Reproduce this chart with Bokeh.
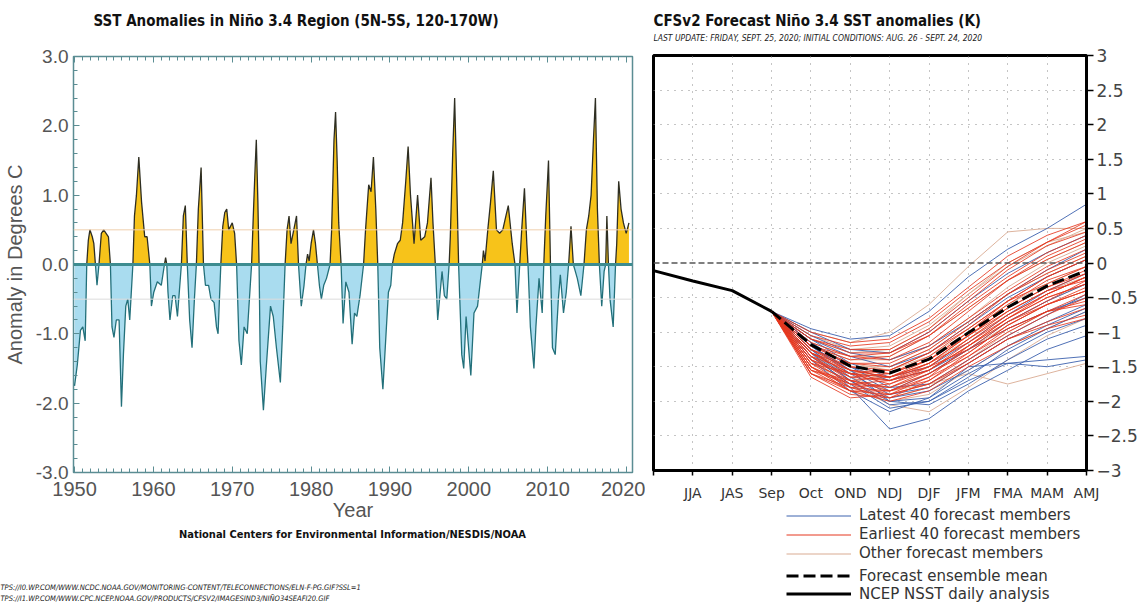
import math
from bokeh.plotting import figure
from bokeh.layouts import row, column
from bokeh.models import FixedTicker, LinearAxis, Label, Legend, LegendItem, Span, Range1d, Title
from bokeh.embed import file_html
from bokeh.resources import INLINE

# ---------------- Left chart data ----------------
sst_year = [
    1950.00, 1950.35, 1950.75, 1951.05, 1951.35, 1951.55, 1951.75, 1951.95, 1952.25, 1952.45,
    1952.65, 1952.85, 1953.10, 1953.40, 1953.70, 1954.00, 1954.30, 1954.55, 1954.75, 1955.00,
    1955.30, 1955.65, 1955.95, 1956.20, 1956.50, 1956.75, 1957.00, 1957.40, 1957.60, 1957.85,
    1958.15, 1958.50, 1958.90, 1959.20, 1959.55, 1959.75, 1960.05, 1960.50, 1961.00, 1961.40,
    1961.55, 1961.70, 1961.85, 1962.10, 1962.45, 1962.75, 1963.05, 1963.55, 1963.80, 1964.05,
    1964.30, 1964.60, 1964.90, 1965.20, 1965.45, 1965.70, 1966.05, 1966.35, 1966.60, 1967.00,
    1967.30, 1967.70, 1968.00, 1968.20, 1968.55, 1968.80, 1969.05, 1969.30, 1969.55, 1970.00,
    1970.30, 1970.55, 1970.85, 1971.15, 1971.50, 1971.90, 1972.45, 1972.70, 1972.90, 1973.05,
    1973.25, 1973.40, 1973.55, 1973.95, 1974.30, 1974.85, 1975.20, 1975.60, 1976.10, 1976.40,
    1976.70, 1976.95, 1977.20, 1977.45, 1977.80, 1978.15, 1978.40, 1978.75, 1979.10, 1979.35,
    1979.55, 1979.75, 1980.00, 1980.30, 1980.55, 1980.80, 1981.05, 1981.30, 1981.60, 1981.95,
    1982.40, 1982.60, 1982.90, 1983.10, 1983.30, 1983.50, 1983.80, 1984.05, 1984.40, 1984.80,
    1985.20, 1985.50, 1985.80, 1986.20, 1986.65, 1986.90, 1987.30, 1987.60, 1987.90, 1988.20,
    1988.45, 1988.70, 1989.10, 1989.50, 1989.80, 1990.10, 1990.30, 1990.55, 1990.95, 1991.30,
    1991.60, 1992.00, 1992.30, 1992.60, 1993.05, 1993.50, 1993.90, 1994.40, 1994.75, 1995.20,
    1995.45, 1995.75, 1996.05, 1996.60, 1996.90, 1997.20, 1997.50, 1997.65, 1997.95, 1998.20,
    1998.50, 1998.70, 1998.85, 1999.10, 1999.35, 1999.65, 2000.25, 2000.65, 2001.10, 2001.60,
    2001.70, 2001.85, 2002.05, 2002.40, 2002.75, 2003.10, 2003.50, 2003.90, 2004.30, 2004.70,
    2005.00, 2005.50, 2005.85, 2006.10, 2006.45, 2006.70, 2007.05, 2007.35, 2007.50, 2007.80,
    2008.25, 2008.50, 2008.90, 2009.30, 2009.50, 2009.75, 2010.10, 2010.35, 2010.60, 2010.95,
    2011.35, 2011.60, 2012.00, 2012.35, 2012.65, 2012.95, 2013.25, 2013.50, 2013.75, 2014.20,
    2014.60, 2014.90, 2015.20, 2015.50, 2015.80, 2016.05, 2016.30, 2016.55, 2016.85, 2017.15,
    2017.35, 2017.50, 2017.70, 2017.90, 2018.30, 2018.60, 2018.75, 2019.00, 2019.30, 2019.60,
    2019.95, 2020.30,
]
sst_anom = [
    -1.75, -1.45, -0.95, -0.90, -1.10, 0.00, 0.35, 0.50, 0.40, 0.30,
    0.00, -0.30, 0.00, 0.45, 0.50, 0.45, 0.40, 0.00, -0.90, -1.05,
    -0.80, -0.80, -2.05, -1.30, -0.60, -0.50, -0.80, 0.00, 0.70, 1.00,
    1.55, 0.90, 0.40, 0.40, 0.00, -0.60, -0.40, -0.25, -0.30, 0.00,
    0.10, 0.00, -0.40, -0.80, -0.45, -0.45, -0.75, 0.00, 0.70, 0.85,
    0.00, -0.80, -1.20, -0.50, 0.00, 0.80, 1.40, 0.00, -0.30, -0.30,
    -0.50, -0.55, -0.90, -1.00, 0.00, 0.55, 0.75, 0.80, 0.50, 0.60,
    0.45, 0.00, -1.10, -1.45, -0.90, -1.00, 0.00, 0.80, 1.40, 1.80,
    0.90, 0.00, -1.40, -2.10, -1.50, -0.60, -0.75, -1.20, -1.70, -0.90,
    0.00, 0.50, 0.70, 0.30, 0.50, 0.70, 0.00, -0.60, -0.30, 0.00,
    0.15, 0.05, 0.30, 0.50, 0.30, 0.00, -0.30, -0.50, -0.30, -0.20,
    0.00, 0.50, 1.80, 2.20, 1.50, 0.60, 0.00, -0.85, -0.25, -0.40,
    -1.15, -0.70, -0.75, -0.45, 0.00, 0.50, 1.15, 1.05, 1.55, 0.80,
    0.00, -1.20, -1.80, -1.00, -0.40, -0.30, 0.00, 0.15, 0.30, 0.35,
    0.60, 1.20, 1.70, 1.00, 0.30, 1.00, 0.35, 0.40, 0.60, 1.25,
    0.60, 0.00, -0.80, -0.10, -0.45, -0.50, 0.00, 0.40, 1.60, 2.40,
    1.00, 0.00, -0.50, -1.30, -1.50, -0.75, -1.60, -0.70, -0.60, -0.10,
    0.00, 0.20, 0.05, 0.50, 0.90, 1.35, 0.50, 0.45, 0.50, 0.70,
    0.85, 0.30, 0.00, -0.70, 0.00, 0.50, 1.10, 0.30, 0.00, -0.90,
    -1.50, -0.90, -0.20, -0.70, 0.00, 0.70, 1.50, 0.00, -1.20, -1.30,
    -0.50, -0.15, -0.70, -0.40, 0.00, 0.55, 0.00, -0.10, -0.20, -0.45,
    0.00, 0.50, 0.70, 1.00, 1.80, 2.40, 0.80, 0.00, -0.60, -0.10,
    0.00, 0.70, 0.00, -0.50, -0.90, 0.00, 0.30, 1.20, 0.80, 0.60,
    0.45, 0.60,
]
sst_major_years = [1950, 1960, 1970, 1980, 1990, 2000, 2010, 2020]
sst_y_ticks = [-3, -2, -1, 0, 1, 2, 3]
sst_y_labels = ["-3.0", "-2.0", "-1.0", "0.0", "1.0", "2.0", "3.0"]

# ---------------- Right chart data ----------------
cfs_labels = ["JJA", "JAS", "Sep", "Oct", "OND", "NDJ", "DJF", "JFM", "FMA", "MAM", "AMJ"]
analysis_pos = [0, 1, 2, 3]
analysis_vals = [-0.11, -0.26, -0.40, -0.70]
forecast_pos = [3, 4, 5, 6, 7, 8, 9, 10, 11]
forecast_start = -0.70
mean_vals = [-0.70, -1.18, -1.49, -1.59, -1.39, -1.01, -0.64, -0.33, -0.11]

earliest_members = [
    [-1.05, -1.20, -1.15, -0.85, -0.40, 0.00, 0.30, 0.55],
    [-1.10, -1.30, -1.30, -1.00, -0.55, -0.10, 0.25, 0.45],
    [-1.20, -1.45, -1.50, -1.25, -0.85, -0.45, -0.15, 0.10],
    [-1.25, -1.55, -1.65, -1.45, -1.05, -0.65, -0.35, -0.10],
    [-1.30, -1.60, -1.75, -1.55, -1.15, -0.75, -0.45, -0.20],
    [-1.35, -1.70, -1.85, -1.70, -1.30, -0.90, -0.60, -0.35],
    [-1.40, -1.75, -1.90, -1.75, -1.40, -1.05, -0.75, -0.50],
    [-1.45, -1.80, -1.95, -1.80, -1.45, -1.10, -0.85, -0.65],
    [-1.50, -1.85, -2.00, -1.85, -1.50, -1.20, -0.95, -0.80],
    [-1.55, -1.75, -1.80, -1.60, -1.25, -0.85, -0.55, -0.25],
    [-1.60, -1.90, -1.95, -1.70, -1.35, -0.95, -0.70, -0.45],
    [-1.65, -1.95, -1.90, -1.65, -1.20, -0.80, -0.50, -0.30],
    [-1.15, -1.35, -1.40, -1.15, -0.70, -0.25, 0.10, 0.35],
    [-1.20, -1.40, -1.35, -1.05, -0.60, -0.20, 0.15, 0.40],
    [-1.30, -1.50, -1.55, -1.30, -0.95, -0.55, -0.20, 0.05],
    [-1.35, -1.65, -1.70, -1.50, -1.10, -0.70, -0.40, -0.15],
    [-1.40, -1.65, -1.60, -1.35, -0.95, -0.55, -0.30, -0.05],
    [-1.45, -1.70, -1.80, -1.55, -1.20, -0.85, -0.60, -0.40],
    [-1.50, -1.80, -1.85, -1.65, -1.35, -1.00, -0.70, -0.55],
    [-1.25, -1.45, -1.45, -1.20, -0.80, -0.40, -0.05, 0.20],
    [-1.10, -1.25, -1.25, -0.95, -0.50, -0.05, 0.30, 0.60],
    [-1.55, -1.85, -1.90, -1.75, -1.45, -1.10, -0.90, -0.75],
    [-1.35, -1.55, -1.60, -1.40, -1.00, -0.60, -0.25, -0.05],
    [-1.60, -1.80, -1.75, -1.50, -1.10, -0.75, -0.45, -0.20],
    [-1.45, -1.60, -1.65, -1.45, -1.15, -0.80, -0.50, -0.30],
    [-1.00, -1.15, -1.10, -0.80, -0.35, 0.10, 0.40, 0.60],
    [-1.30, -1.55, -1.65, -1.50, -1.25, -0.95, -0.70, -0.60],
    [-1.50, -1.75, -1.70, -1.45, -1.05, -0.65, -0.35, -0.15],
    [-1.25, -1.50, -1.60, -1.40, -1.05, -0.70, -0.40, -0.25],
    [-1.40, -1.60, -1.55, -1.30, -0.90, -0.45, -0.10, 0.15],
    [-1.55, -1.70, -1.65, -1.40, -1.00, -0.55, -0.20, 0.05],
    [-1.20, -1.35, -1.30, -1.05, -0.65, -0.25, 0.05, 0.30],
    [-1.60, -1.85, -1.85, -1.60, -1.30, -0.90, -0.60, -0.40],
    [-1.30, -1.60, -1.70, -1.55, -1.20, -0.80, -0.45, -0.20],
]
latest_members = [
    [-0.95, -1.10, -1.05, -0.70, -0.20, 0.20, 0.50, 0.85],
    [-1.05, -1.30, -1.40, -1.20, -0.85, -0.45, -0.10, 0.20],
    [-1.15, -1.50, -1.80, -1.75, -1.40, -1.05, -0.75, -0.45],
    [-1.20, -1.55, -2.00, -1.95, -1.60, -1.30, -1.00, -0.80],
    [-1.25, -1.70, -2.05, -2.00, -1.70, -1.45, -1.40, -1.35],
    [-1.30, -1.80, -2.40, -2.25, -1.85, -1.55, -1.25, -1.05],
    [-1.10, -1.45, -1.65, -1.50, -1.15, -0.75, -0.40, -0.15],
    [-1.20, -1.60, -1.90, -1.80, -1.45, -1.10, -0.85, -0.60],
    [-1.35, -1.75, -2.10, -2.00, -1.65, -1.25, -0.95, -0.70],
    [-1.00, -1.25, -1.30, -1.00, -0.55, -0.15, 0.15, 0.40],
    [-1.15, -1.50, -1.70, -1.55, -1.25, -0.95, -0.70, -0.50],
    [-1.25, -1.65, -1.95, -1.85, -1.55, -1.20, -0.90, -0.65],
    [-1.30, -1.70, -2.00, -2.05, -1.75, -1.40, -1.10, -0.90],
    [-1.10, -1.35, -1.50, -1.30, -0.90, -0.50, -0.20, 0.05],
    [-1.20, -1.55, -1.85, -1.60, -1.25, -0.85, -0.55, -0.30],
    [-1.40, -1.85, -2.15, -1.95, -1.50, -1.45, -1.50, -1.40],
]
other_members = [
    [-1.00, -1.15, -1.00, -0.60, -0.05, 0.45, 0.50, 0.50],
    [-1.20, -1.45, -1.55, -1.35, -1.00, -0.60, -0.30, -0.05],
    [-1.30, -1.65, -1.85, -1.75, -1.60, -1.75, -1.60, -1.45],
    [-1.15, -1.35, -1.35, -1.05, -0.65, -0.25, 0.05, 0.30],
    [-1.25, -1.55, -1.70, -1.55, -1.20, -0.85, -0.55, -0.30],
    [-1.35, -1.75, -2.05, -2.15, -1.80, -1.40, -1.05, -0.80],
    [-1.10, -1.30, -1.25, -0.95, -0.45, 0.00, 0.30, 0.45],
    [-1.40, -1.80, -1.95, -1.80, -1.40, -1.00, -0.70, -0.50],
    [-1.05, -1.25, -1.20, -0.90, -0.45, -0.05, 0.25, 0.50],
    [-1.30, -1.50, -1.50, -1.25, -0.85, -0.45, -0.15, 0.10],
    [-1.50, -1.85, -2.00, -1.90, -1.55, -1.20, -0.95, -0.70],
    [-1.20, -1.40, -1.40, -1.20, -0.80, -0.35, 0.00, 0.25],
    [-1.45, -1.70, -1.80, -1.60, -1.25, -0.90, -0.60, -0.40],
    [-1.35, -1.60, -1.65, -1.45, -1.10, -0.70, -0.40, -0.20],
]
cfs_y_ticks = [-3, -2.5, -2, -1.5, -1, -0.5, 0, 0.5, 1, 1.5, 2, 2.5, 3]
cfs_y_labels = ["\u22123", "\u22122.5", "\u22122", "\u22121.5", "\u22121", "\u22120.5", "0",
                "0.5", "1", "1.5", "2", "2.5", "3"]
legend_labels = ["Latest 40 forecast members", "Earliest 40 forecast members",
                 "Other forecast members", "Forecast ensemble mean", "NCEP NSST daily analysis"]
url_texts = [
    "TPS://I0.WP.COM/WWW.NCDC.NOAA.GOV/MONITORING-CONTENT/TELECONNECTIONS/ELN-F-PG.GIF?SSL=1",
    "TPS://I1.WP.COM/WWW.CPC.NCEP.NOAA.GOV/PRODUCTS/CFSV2/IMAGESIND3/NI\u00d1O34SEAFI20.GIF",
]

# ---------------- styles / layout constants ----------------
TEAL = "#5b8d93"
GRAY_TXT = "#555555"
COND = "DejaVu Sans Condensed"
SANS = "Liberation Sans"
C_EARLY = "#e5371f"
C_LATE = "#3d62ae"
C_OTHER = "#d9ab92"
H_HEAD = 44
H_TOTAL = 603
W_LEFT = 645
W_RIGHT = 495
P1_BOTTOM = 527
P2_BOTTOM = 503
F1_LEFT = 73      # left frame edge shared by the left column
F2_LEFT = 653     # left frame edge shared by the right column


def text_fig(w, h):
    f = figure(width=w, height=h, x_range=Range1d(0, 1), y_range=Range1d(0, 1),
               x_axis_location=None, y_axis_location=None, output_backend="svg",
               toolbar_location=None, min_border=0)
    f.grid.visible = False
    f.outline_line_color = None
    f.background_fill_color = "white"
    f.border_fill_color = "white"
    return f


def add_text(f, x, y, text, font, size, style="normal", color="#111111", align="left"):
    f.add_layout(Label(x=x, y=y, x_units="screen", y_units="screen", text=text,
                       text_font=font, text_font_size=size, text_font_style=style,
                       text_color=color, text_align=align, text_baseline="middle"))


# ================= Header figures =================
head_left = text_fig(W_LEFT, H_HEAD)
add_text(head_left, 93 - F1_LEFT, H_HEAD - 20,
         "SST Anomalies in Ni\u00f1o 3.4 Region (5N-5S, 120-170W)", COND, "15px", "bold")
head_right = text_fig(W_RIGHT, H_HEAD)
add_text(head_right, 0, H_HEAD - 20, "CFSv2 Forecast Ni\u00f1o 3.4 SST anomalies (K)",
         COND, "15px", "bold")
add_text(head_right, 0, H_HEAD - 37,
         "LAST UPDATE: FRIDAY, SEPT. 25, 2020; INITIAL CONDITIONS: AUG. 26 - SEPT. 24, 2020",
         COND, "8.5px", "italic", "#222222")

# ================= Left chart =================
p1 = figure(width=W_LEFT, height=P1_BOTTOM - H_HEAD, x_range=Range1d(1949.87, 2020.75),
            y_range=Range1d(-3, 3), output_backend="svg", toolbar_location=None,
            min_border_left=F1_LEFT, min_border_right=13, min_border_top=56 - H_HEAD,
            min_border_bottom=P1_BOTTOM - 472)
p1.grid.visible = False
p1.background_fill_color = "white"
p1.border_fill_color = "white"
p1.outline_line_color = TEAL
p1.outline_line_width = 1.5

pos = [max(v, 0.0) for v in sst_anom]
neg = [min(v, 0.0) for v in sst_anom]
zeros = [0.0] * len(sst_anom)
p1.varea(x=sst_year, y1=zeros, y2=pos, fill_color="#f7c31a")
p1.varea(x=sst_year, y1=neg, y2=zeros, fill_color="#a9dcef")
p1.line(sst_year, pos, line_color="#2e2e22", line_width=1.3)
p1.line(sst_year, neg, line_color="#23707a", line_width=1.3)
p1.add_layout(Span(location=0.5, dimension="width", line_color="#efcfae", line_width=1))
p1.add_layout(Span(location=-0.5, dimension="width", line_color="#dddddd", line_width=1))
p1.add_layout(Span(location=0, dimension="width", line_color="#3d8c90", line_width=3))

xt = FixedTicker(ticks=sst_major_years, minor_ticks=list(range(1950, 2021)))
for ax in p1.xaxis:
    ax.ticker = xt
    ax.axis_label = "Year"
    ax.axis_label_text_font = SANS
    ax.axis_label_text_font_size = "20px"
    ax.axis_label_text_font_style = "normal"
    ax.axis_label_text_color = GRAY_TXT
    ax.axis_label_standoff = 0
    ax.major_label_text_font = SANS
    ax.major_label_text_font_size = "20px"
    ax.major_label_text_color = GRAY_TXT
    ax.major_label_standoff = 9
    ax.axis_line_color = TEAL
    ax.major_tick_line_color = TEAL
    ax.minor_tick_line_color = TEAL
    ax.major_tick_in = 6
    ax.major_tick_out = 0
    ax.minor_tick_in = 4
    ax.minor_tick_out = 0

top_ax = LinearAxis(ticker=xt, major_label_overrides={t: "" for t in sst_major_years},
                    major_label_standoff=0, axis_line_color=TEAL,
                    major_tick_line_color=TEAL, minor_tick_line_color=TEAL,
                    major_tick_in=6, major_tick_out=0, minor_tick_in=4, minor_tick_out=0)
p1.add_layout(top_ax, "above")

yt = FixedTicker(ticks=sst_y_ticks, minor_ticks=[round(-3 + 0.2 * i, 1) for i in range(31)])
for ax in p1.yaxis:
    ax.ticker = yt
    ax.major_label_overrides = {t: s for t, s in zip(sst_y_ticks, sst_y_labels)}
    ax.major_label_text_font = SANS
    ax.major_label_text_font_size = "19px"
    ax.major_label_text_color = GRAY_TXT
    ax.major_label_standoff = 5
    ax.axis_label = "Anomaly in Degrees C"
    ax.axis_label_text_font = SANS
    ax.axis_label_text_font_size = "20px"
    ax.axis_label_text_font_style = "normal"
    ax.axis_label_text_color = GRAY_TXT
    ax.axis_label_standoff = 7
    ax.axis_line_color = TEAL
    ax.major_tick_line_color = TEAL
    ax.minor_tick_line_color = TEAL
    ax.major_tick_in = 6
    ax.major_tick_out = 0
    ax.minor_tick_in = 4
    ax.minor_tick_out = 0

# ================= Left footer =================
foot_left = text_fig(W_LEFT, H_TOTAL - P1_BOTTOM)
for t in url_texts:
    foot_left.add_layout(Title(text=t, align="left", offset=-F1_LEFT, standoff=0,
                               vertical_align="middle", text_font=COND, text_font_size="7.5px",
                               text_font_style="italic", text_color="#222222"), "below")
# footer frame is the footer height minus the two url rows (~21px); credit sits 8px below its top
add_text(foot_left, 352 - F1_LEFT, (H_TOTAL - P1_BOTTOM) - 21 - (535 - P1_BOTTOM),
         "National Centers for Environmental Information/NESDIS/NOAA", COND, "11px", "bold",
         align="center")

# ================= Right chart =================
p2 = figure(width=W_RIGHT, height=P2_BOTTOM - H_HEAD, x_range=Range1d(0, 11), y_range=Range1d(-3, 3),
            y_axis_location="right", output_backend="svg", toolbar_location=None,
            min_border_left=F2_LEFT - W_LEFT, min_border_right=W_LEFT + W_RIGHT - 1086,
            min_border_top=55 - H_HEAD, min_border_bottom=P2_BOTTOM - 470)
p2.background_fill_color = "white"
p2.border_fill_color = "white"
p2.outline_line_color = "black"
p2.outline_line_width = 3
p2.xgrid.ticker = FixedTicker(ticks=list(range(1, 11)))
p2.ygrid.ticker = FixedTicker(ticks=[t for t in cfs_y_ticks if t not in (-3, 0, 3)])
p2.grid.grid_line_color = "#8a8a8a"
p2.grid.grid_line_dash = "1 6"
p2.grid.grid_line_width = 1

p2.add_layout(Span(location=0, dimension="width", line_color="#555555", line_width=1.5,
                   line_dash="6 3"))

xs_o = [forecast_pos for _ in other_members]
ys_o = [[forecast_start] + m for m in other_members]
xs_l = [forecast_pos for _ in latest_members]
ys_l = [[forecast_start] + m for m in latest_members]
xs_e = [forecast_pos for _ in earliest_members]
ys_e = [[forecast_start] + m for m in earliest_members]
p2.multi_line(xs=xs_o, ys=ys_o, line_color=C_OTHER, line_width=1, line_alpha=0.9)
p2.multi_line(xs=xs_l, ys=ys_l, line_color=C_LATE, line_width=1, line_alpha=0.9)
p2.multi_line(xs=xs_e, ys=ys_e, line_color=C_EARLY, line_width=1, line_alpha=0.85)
p2.line(forecast_pos, mean_vals, line_color="black", line_width=3, line_dash="12 5")
p2.line(analysis_pos, analysis_vals, line_color="black", line_width=3)

for ax in p2.xaxis:
    ax.ticker = FixedTicker(ticks=list(range(0, 12)))
    ax.major_label_overrides = dict([(0, "")] + [(i + 1, s) for i, s in enumerate(cfs_labels)])
    ax.major_label_text_font = "DejaVu Sans"
    ax.major_label_text_font_size = "14px"
    ax.major_label_text_color = "#333333"
    ax.major_label_standoff = 9
    ax.axis_line_color = "black"
    ax.axis_line_width = 3
    ax.major_tick_line_color = "black"
    ax.major_tick_line_width = 1.5
    ax.major_tick_in = 0
    ax.major_tick_out = 5
    ax.minor_tick_line_color = None

for ax in p2.yaxis:
    ax.ticker = FixedTicker(ticks=cfs_y_ticks)
    ax.major_label_overrides = {t: s for t, s in zip(cfs_y_ticks, cfs_y_labels)}
    ax.major_label_text_font = "DejaVu Sans"
    ax.major_label_text_font_size = "17px"
    ax.major_label_text_color = "#444444"
    ax.major_label_standoff = 3
    ax.axis_line_color = "black"
    ax.axis_line_width = 3
    ax.major_tick_line_color = "black"
    ax.major_tick_line_width = 1.5
    ax.major_tick_in = 0
    ax.major_tick_out = 7
    ax.minor_tick_line_color = None

# ================= Right footer (legend) =================
# legend keys reuse the chart data; it lies outside this panel's 0..1 ranges, so only the keys show
foot_right = text_fig(W_RIGHT, H_TOTAL - P2_BOTTOM)
k_late = foot_right.multi_line(xs=xs_l, ys=ys_l, line_color=C_LATE, line_width=1)
k_early = foot_right.multi_line(xs=xs_e, ys=ys_e, line_color=C_EARLY, line_width=1)
k_other = foot_right.multi_line(xs=xs_o, ys=ys_o, line_color=C_OTHER, line_width=1)
k_mean = foot_right.line(forecast_pos, mean_vals, line_color="black", line_width=3, line_dash="12 5")
k_anal = foot_right.line(analysis_pos, analysis_vals, line_color="black", line_width=3)


def make_legend(items, row_h, loc):
    return Legend(items=items, location=loc, orientation="vertical",
                  padding=0, margin=0, spacing=0, label_height=row_h, glyph_height=row_h,
                  glyph_width=65, label_standoff=8,
                  label_text_font="DejaVu Sans", label_text_font_size="15px",
                  label_text_color="#333333", border_line_alpha=0, background_fill_alpha=0)


leg1 = make_legend([LegendItem(label=legend_labels[0], renderers=[k_late]),
                    LegendItem(label=legend_labels[1], renderers=[k_early]),
                    LegendItem(label=legend_labels[2], renderers=[k_other])],
                   19, (133, H_TOTAL - 562.5))
leg2 = make_legend([LegendItem(label=legend_labels[3], renderers=[k_mean]),
                    LegendItem(label=legend_labels[4], renderers=[k_anal])],
                   17, (133, H_TOTAL - 602.5))
foot_right.add_layout(leg1)
foot_right.add_layout(leg2)

layout = row(column(head_left, p1, foot_left, spacing=0),
             column(head_right, p2, foot_right, spacing=0), spacing=0)
open("out.html", "w").write(file_html(layout, INLINE))
